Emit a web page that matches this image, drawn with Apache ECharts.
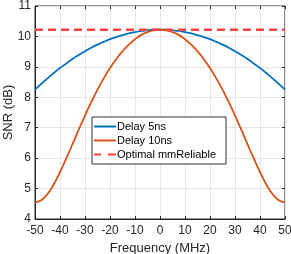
<!DOCTYPE html>
<html><head><meta charset="utf-8">
<script src="https://cdn.jsdelivr.net/npm/echarts@6/dist/echarts.min.js"></script>
<style>html,body{margin:0;padding:0;background:#fff}#c{width:291px;height:254px}</style>
</head><body><div id="c"></div>
<script>
const freq = [-50,-47.5,-45,-42.5,-40,-37.5,-35,-32.5,-30,-27.5,-25,-22.5,-20,-17.5,-15,-12.5,-10,-7.5,-5,-2.5,0,2.5,5,7.5,10,12.5,15,17.5,20,22.5,25,27.5,30,32.5,35,37.5,40,42.5,45,47.5,50];
const delay5 = [8.25,8.44,8.62,8.80,8.96,9.11,9.26,9.39,9.51,9.63,9.73,9.82,9.91,9.98,10.04,10.10,10.14,10.18,10.20,10.22,10.22,10.22,10.20,10.18,10.14,10.10,10.04,9.98,9.91,9.82,9.73,9.63,9.51,9.39,9.26,9.11,8.96,8.80,8.62,8.44,8.25];
const delay10 = [4.55,4.62,4.82,5.14,5.54,5.99,6.46,6.94,7.40,7.84,8.25,8.62,8.96,9.26,9.51,9.73,9.91,10.05,10.14,10.20,10.22,10.20,10.14,10.05,9.91,9.73,9.51,9.26,8.96,8.62,8.25,7.84,7.40,6.94,6.46,5.99,5.54,5.14,4.82,4.62,4.55];
const optimal = [10.22,10.22];
const optimalFreq = [-50,50];
const names = ['Delay 5ns','Delay 10ns','Optimal mmReliable'];

const pairs = (xs, ys) => xs.map((x,i)=>[x, ys[i]]);
const font = 'Liberation Sans, Arial, Helvetica, sans-serif';
const lineIcon = 'path://M0,0h22v2h-22z';
const dashIcon = 'path://M0,0h7v2h-7z M14,0h8v2h-8z';
const chart = echarts.init(document.getElementById('c'));
chart.setOption({
  animation:false,
  grid:{left:35,right:6,top:6,bottom:35,show:true,borderColor:'#262626',borderWidth:1,backgroundColor:'#fff',containLabel:false,outerBoundsMode:'none'},
  legend:{
    data:[{name:names[0],icon:lineIcon},{name:names[1],icon:lineIcon},{name:names[2],icon:dashIcon}],
    orient:'vertical', left:92, top:117, itemWidth:22, itemHeight:2, itemGap:3,
    backgroundColor:'#fff', borderColor:'#333', borderWidth:1, padding:[4,10,4,2],
    textStyle:{fontFamily:font,fontSize:11,color:'#000',padding:[0,0,0,-4],lineHeight:11}
  },
  xAxis:[{
    type:'value', min:-50, max:50, interval:10,
    name:'Frequency (MHz)', nameLocation:'middle', nameGap:22,
    nameTextStyle:{fontFamily:font,fontSize:13,color:'#262626'},
    axisLine:{show:true,onZero:false,lineStyle:{color:'#262626'}},
    axisTick:{show:true,inside:true,length:3,lineStyle:{color:'#262626'}},
    axisLabel:{fontFamily:font,fontSize:12,color:'#262626',margin:6},
    splitLine:{show:true,lineStyle:{color:'#e6e6e6',width:1}}
  },{
    type:'value', min:-50, max:50, interval:10, position:'top',
    axisLine:{show:false,onZero:false}, axisLabel:{show:false}, splitLine:{show:false},
    axisTick:{show:true,inside:true,length:3,lineStyle:{color:'#262626'}}
  }],
  yAxis:[{
    type:'value', min:4, max:11, interval:1,
    name:'SNR (dB)', nameLocation:'middle', nameGap:20, nameMoveOverlap:false,
    nameTextStyle:{fontFamily:font,fontSize:13,color:'#262626'},
    axisLine:{show:true,onZero:false,lineStyle:{color:'#262626'}},
    axisTick:{show:true,inside:true,length:3,lineStyle:{color:'#262626'}},
    axisLabel:{fontFamily:font,fontSize:12,color:'#262626',margin:4},
    splitLine:{show:true,lineStyle:{color:'#e6e6e6',width:1}}
  },{
    type:'value', min:4, max:11, interval:1, position:'right',
    axisLine:{show:false,onZero:false}, axisLabel:{show:false}, splitLine:{show:false},
    axisTick:{show:true,inside:true,length:3,lineStyle:{color:'#262626'}}
  }],
  series:[
    {name:names[0],type:'line',data:pairs(freq,delay5),showSymbol:false,symbol:'none',smooth:true,
     lineStyle:{color:'#0072BD',width:1.8},itemStyle:{color:'#0072BD'},z:3},
    {name:names[1],type:'line',data:pairs(freq,delay10),showSymbol:false,symbol:'none',smooth:true,
     lineStyle:{color:'#D95319',width:1.8},itemStyle:{color:'#D95319'},z:3},
    {name:names[2],type:'line',data:pairs(optimalFreq,optimal),showSymbol:false,symbol:'none',
     lineStyle:{color:'#FF4040',width:2.6,type:[8,5]},itemStyle:{color:'#FF4040'},z:4}
  ]
});
</script></body></html>
